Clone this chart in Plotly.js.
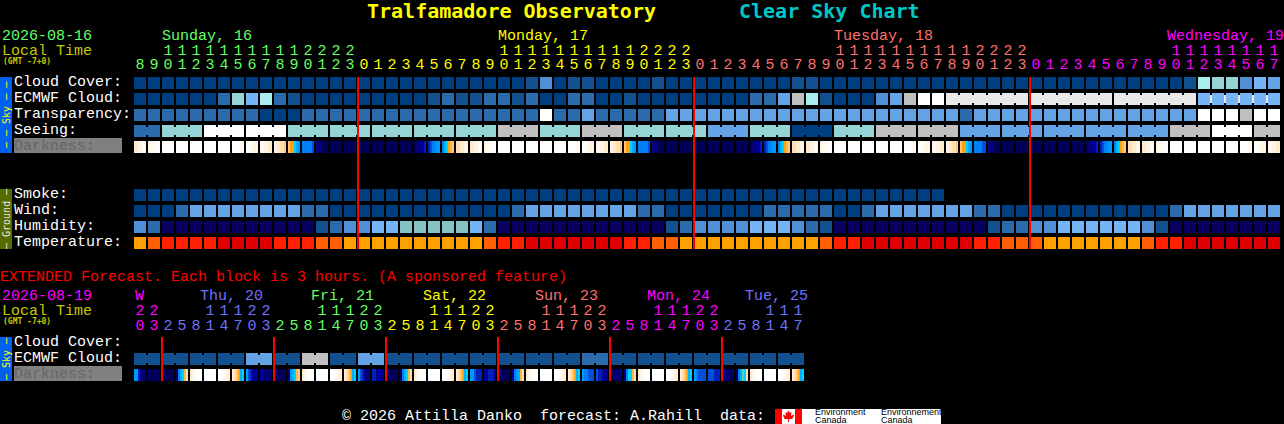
<!DOCTYPE html>
<html><head><meta charset="utf-8">
<script src="https://cdn.plot.ly/plotly-3.0.1.min.js"></script>
<style>html,body{margin:0;padding:0;background:#000;overflow:hidden}#c{width:1284px;height:424px}</style>
</head><body><div id="c"></div>
<script>
const titleLeft="Tralfamadore Observatory", titleRight="Clear Sky Chart";
const mainDate="2026-08-16", extDate="2026-08-19";
const skyLabels=["Cloud Cover:","ECMWF Cloud:","Transparency:","Seeing:"];
const groundLabels=["Smoke:","Wind:","Humidity:","Temperature:"];
const extLabels=["Cloud Cover:","ECMWF Cloud:"];
const C={green:"#66FF66",yellow:"#FFFF00",salmon:"#FF7070",magenta:"#FF00FF",peri:"#7070FF"};
const hours=[8,9,10,11,12,13,14,15,16,17,18,19,20,21,22,23,
0,1,2,3,4,5,6,7,8,9,10,11,12,13,14,15,16,17,18,19,20,21,22,23,
0,1,2,3,4,5,6,7,8,9,10,11,12,13,14,15,16,17,18,19,20,21,22,23,
0,1,2,3,4,5,6,7,8,9,10,11,12,13,14,15,16,17];
const mainDayColors=[C.green,C.yellow,C.salmon,C.magenta];
const mainDayNames=["Sunday, 16","Monday, 17","Tuesday, 18","Wednesday, 19"];
const extHours=[20,23,2,5,8,11,14,17,20,23,2,5,8,11,14,17,20,23,2,5,8,11,14,17,20,23,2,5,8,11,14,17,20,23,2,5,8,11,14,17,20,23,2,5,8,11,14,17];
const extDayColors=[C.magenta,C.peri,C.green,C.yellow,C.salmon,C.magenta,C.peri];
const extDayNames=["W","Thu, 20","Fri, 21","Sat, 22","Sun, 23","Mon, 24","Tue, 25"];
// colour levels
const palette=["#003F7F","#13508F","#2B6CAD","#4F8FD5","#63A3E6","#74B5F8","#95D5D5","#A9EDED","#FFFFFF","#C0C0C0","#E9E9E9","#08005F","#86C2C2","#FFA000","#FF5F00","#FF2000","#E00000"];
const cloudCover=[0,0,0,0,0,0,0,0,0,0,0,0,0,0,0,0,0,0,0,0,0,0,0,0,0,0,0,0,1,3,0,1,1,0,0,0,0,1,0,0,0,0,0,0,0,0,0,1,1,0,0,0,0,0,0,0,0,0,0,0,0,0,0,0,0,0,0,0,0,0,0,0,0,0,0,1,7,6,6,3,5,4];
const ecmwf=[0,0,0,0,0,0,2,6,5,7,2,1,0,0,0,0,0,0,0,0,0,1,2,1,1,2,2,1,2,0,0,2,2,0,0,1,0,0,0,0,0,0,0,0,2,2,4,9,7,1,0,0,0,3,4,9,8,8,10,10,10,10,10,10,10,10,10,10,10,10,10,10,10,10,10,10,5,5,5,5,5,5];
const ecmwfSpans=[1,1,1,1,1,1,1,1,1,1,1,1,1,1,1,1,1,1,1,1,1,1,1,1,1,1,1,1,1,1,1,1,1,1,1,1,1,1,1,1,1,1,1,1,1,1,1,1,1,1,1,1,1,1,1,1,1,1,6,6,6,6];
const transparency=[2,2,2,2,2,2,2,2,2,0,0,0,2,2,2,2,2,2,2,2,2,2,2,2,2,2,2,2,2,8,2,2,4,2,2,2,2,2,4,4,4,4,4,4,4,4,4,4,4,4,4,4,4,4,4,4,4,4,4,2,4,4,4,4,4,4,4,4,4,4,4,4,4,4,4,4,8,8,8,9,8,8];
const seeingBlocks=[2,6,8,8,6,6,6,6,6,9,6,9,6,6,4,6,0,6,9,9,4,4,4,4,4,9,8,9];
const seeingSpans=[2,3,3,3,3,3,3,3,3,3,3,3,3,3,3,3,3,3,3,3,3,3,3,3,3,3,3,2];
const smoke=[0,0,0,0,0,0,0,0,0,0,0,0,0,0,0,0,0,0,0,0,0,0,0,0,0,0,0,0,0,0,0,0,0,0,0,0,0,0,0,0,0,0,0,0,0,0,0,0,0,0,0,0,0,0,0,0,0,0];
const wind=[0,0,0,2,4,4,4,4,4,4,4,4,2,2,0,0,0,0,0,0,0,0,0,0,0,0,0,2,4,4,4,4,4,4,4,4,2,2,0,0,0,0,0,0,0,2,2,2,2,2,0,0,2,4,4,4,4,4,4,4,2,2,0,0,0,0,0,0,0,0,0,0,0,0,2,4,4,4,4,4,4,4];
const humidity=[3,2,11,11,11,11,11,11,11,11,11,11,11,1,2,3,3,5,5,12,12,12,12,12,5,2,11,11,11,11,11,11,11,11,11,11,11,11,1,2,3,3,3,3,5,5,5,3,2,1,11,11,11,11,11,11,11,11,11,11,11,1,2,2,3,3,5,5,5,5,5,5,3,1,11,11,11,11,11,11,11,11];
const temperature=[13,14,15,15,15,15,16,16,16,16,15,15,15,14,14,13,13,13,13,13,13,13,13,13,13,14,15,15,16,16,16,16,16,16,16,15,15,14,14,13,13,13,13,13,13,13,13,13,13,14,15,15,16,16,16,16,16,16,16,16,15,15,14,14,14,13,13,13,13,13,13,13,14,15,15,16,16,16,16,16,16,16];
const extEcmwfBlocks=[1,1,1,1,4,1,9,1,4,1,1,1,1,1,1,1,2,1,1,1,1,1,1,1];
// darkness levels by letter, six strips per block
const darkPalette={W:"#FFFFFF",a:"#FFF9F2",b:"#FFF3E4",c:"#FFEAD0",d:"#FFDDB0",e:"#FFC880",f:"#FFB840",g:"#FFA010",t:"#60D0A8",h:"#00D0FF",i:"#00B0FF",j:"#0098FF",k:"#0080F8",l:"#0050D8",m:"#0020B8",n:"#000098",o:"#000074",p:"#000058"};
const darkness="ccbbaa baaaWW WWWWWW WWWWWW WWWWWW WWWWWW WWWWWW WWWWaa WWaabb aabbcc bccdde egghij kkkkkl nooppp pppppp pppppp pppppp pppppp pppppp pppppp poonnm mlkkjj kihgfe ddccbb ccbbaa baaaWW WWWWWW WWWWWW WWWWWW WWWWWW WWWWWW WWWWaa WWaabb aabbcc bccdde egghij kkkkkl nooppp pppppp pppppp pppppp pppppp pppppp pppppp poonnm mlkkjj kihgfe ddccbb ccbbaa baaaWW WWWWWW WWWWWW WWWWWW WWWWWW WWWWWW WWWWaa WWaabb aabbcc bccdde egghij kkkkll nooppp pppppp pppppp pppppp pppppp pppppp pppppp poonnm mlkkjj kihgfe ddccbb ccbbaa baaaWW WWWWWW WWWWWW WWWWWW WWWWWW WWWWWW WWWWaa WWaabb aabbcc".split(" ");
const extDarkness="jjmnoo oppppp pppppp pkihfd cbaWWW WWWWWW WWWabc cdegih jlmnnn nnoooo oopppp pjihfe cbaWWW WWWWWW WWWabc cdegih jlmnoo mmnnnn oopppp pkihfd cbaWWW WWWWWW WWWabc cdegih jjlmmm nnmmmn oopppp nkjifd cbaWWW WWWWWW WWWabc cdegih jkklll lmmnnn ppoooo okhhfd cbaWWW WWWWWW WWWabc cdegih jkllll lllmmm nnoopp pkithd cbaWWW WWWWWW WWWabc cdegih".split(" ");

const X0=134,PX=14;
function steps(cols){const n=cols.length,o=[];cols.forEach((c,i)=>{o.push([i/n,c]);o.push([(i+1)/n,c]);});return o;}
function edges(start,n,step){const e=[];for(let i=0;i<=n;i++)e.push(start+i*step);return e;}
function expand(vals,spans){const o=[];vals.forEach((v,i)=>{for(let k=0;k<spans[i];k++)o.push(v);});return o;}
function links(vals,spans){const o=[];vals.forEach((v,i)=>{for(let k=0;k<spans[i];k++)o.push(k<spans[i]-1?v:null);});return o;}
const N=hours.length;
const blank=new Array(N).fill(null);
const seeing=expand(seeingBlocks,seeingSpans);
const pad=a=>a.concat(new Array(N-a.length).fill(null));
const grid=[cloudCover,ecmwf,transparency,seeing,blank,blank,blank,pad(smoke),wind,humidity,temperature];
const hm=(x,y,z,xgap,ygap)=>({type:"heatmap",x,y,z,xgap,ygap,colorscale:steps(palette),zmin:-0.5,zmax:palette.length-0.5,showscale:false,hoverinfo:"skip",zsmooth:false});
const traces=[];
traces.push(hm(edges(X0-1,N,PX),edges(75,11,16),grid,2,4));
const ecmwfLink=links(ecmwf,ecmwfSpans),seeLink=links(seeingBlocks,seeingSpans);
traces.push(hm(edges(X0+6,N,PX),edges(75,4,16),[blank,ecmwfLink,blank,seeLink],12,8));
const extN=extHours.length;
const twos=extEcmwfBlocks.map(()=>2);
traces.push(hm(edges(X0-1,extN,PX),[351,367],[expand(extEcmwfBlocks,twos)],2,4));
traces.push(hm(edges(X0+6,extN,PX),[351,367],[links(extEcmwfBlocks,twos)],12,8));
// darkness strips
const darkKeys=Object.keys(darkPalette),darkCols=darkKeys.map(k=>darkPalette[k]);
function darkRow(cells,top){
  const z=[];cells.forEach(s=>{for(const ch of s)z.push(darkKeys.indexOf(ch));z.push(null);});
  return {type:"heatmap",x:edges(X0,z.length,2),y:[top,top+12],z:[z],colorscale:steps(darkCols),zmin:-0.5,zmax:darkCols.length-0.5,showscale:false,hoverinfo:"skip",zsmooth:false};
}
traces.push(darkRow(darkness,141));
traces.push(darkRow(extDarkness,369));
// midnight lines
function midnight(h,top,bottom){const x=[],y=[];h.forEach((v,i)=>{if(i>0&&h[i]<h[i-1]){x.push(X0+i*PX,X0+i*PX,null);y.push(top,bottom,null);}});return {x,y};}
const m1=midnight(hours,77,249),m2=midnight(extHours,337,381);
traces.push({type:"scatter",mode:"lines",x:m1.x.concat(m2.x),y:m1.y.concat(m2.y),line:{color:"#FF0000",width:2},hoverinfo:"skip",connectgaps:false});
// text
const MONO="'Liberation Mono',monospace";
const TITLE="'DejaVu Sans Mono',monospace";
function txt(x,y,text,color,size,pos,bold,fam){return {type:"scatter",mode:"text",x,y,text,textposition:pos||"middle right",textfont:{family:fam||MONO,size,color,weight:bold?"bold":"normal"},hoverinfo:"skip",cliponaxis:false};}
function digits(h,dayCols,yT,yU){
  let d=0;const ux=[],ut=[],uc=[],tx=[],tt=[],tc=[];
  h.forEach((v,i)=>{if(i>0&&v<h[i-1])d++;const x=X0+i*PX+6;ux.push(x);ut.push(String(v%10));uc.push(dayCols[d]);if(v>=10){tx.push(x);tt.push(String(Math.floor(v/10)));tc.push(dayCols[d]);}});
  return [txt(tx,tx.map(()=>yT),tt,tc,15,"middle center"),txt(ux,ux.map(()=>yU),ut,uc,15,"middle center")];
}
traces.push(...digits(hours,mainDayColors,51,65),...digits(extHours,extDayColors,311,326));
const one=(x,y,s,c,size,bold,fam)=>txt([x],[y],[s],c,size,"middle right",bold,fam);
traces.push(one(367,13,titleLeft,"#FFFF00",20,true,TITLE),one(739,13,titleRight,"#00C8C8",20,true,TITLE));
traces.push(one(2,36,mainDate,C.green,15),one(2,51,"Local Time","#C8C800",15),one(3,62,"(GMT -7+0)","#C8C800",8,true,TITLE));
[162,498,834,1167].forEach((x,i)=>traces.push(one(x,36,mainDayNames[i],mainDayColors[i],15)));
skyLabels.forEach((s,i)=>traces.push(one(14,82+16*i,s,"#FFFFFF",15)));
traces.push(one(14,146,"Darkness:","#666666",15));
groundLabels.forEach((s,i)=>traces.push(one(14,194+16*i,s,"#FFFFFF",15)));
traces.push(one(0,277,"EXTENDED Forecast. Each block is 3 hours. (A sponsored feature)","#FF0000",15));
traces.push(one(2,296,extDate,C.magenta,15),one(2,311,"Local Time","#C8C800",15),one(3,322,"(GMT -7+0)","#C8C800",8,true,TITLE));
[135,200,311,423,535,647,745].forEach((x,i)=>traces.push(one(x,296,extDayNames[i],extDayColors[i],15)));
extLabels.forEach((s,i)=>traces.push(one(14,342+16*i,s,"#FFFFFF",15)));
traces.push(one(14,374,"Darkness:","#666666",15));
traces.push(one(342,416,"\u00A9 2026 Attilla Danko  forecast: A.Rahill  data:","#FFFFFF",15));
const SANS="'Liberation Sans',sans-serif";
[[815,"Environment"],[881,"Environnement"]].forEach(([x,s])=>{
  traces.push({type:"scatter",mode:"text",x:[x],y:[412.5],text:[s],textposition:"middle right",textfont:{family:SANS,size:9,color:"#000"},hoverinfo:"skip"});
  traces.push({type:"scatter",mode:"text",x:[x],y:[420.5],text:["Canada"],textposition:"middle right",textfont:{family:SANS,size:9,color:"#000"},hoverinfo:"skip"});
});
const rect=(x0,y0,x1,y1,c,layer)=>({type:"rect",xref:"x",yref:"y",x0,y0,x1,y1,fillcolor:c,line:{width:0},layer:layer||"below"});
const shapes=[
 rect(0,77,12,153,"#0060F0"),rect(0,189,12,249,"#556B00"),rect(0,337,12,381,"#0060F0"),
 rect(14,138,122,153,"#808080"),rect(14,366,122,381,"#808080"),
 rect(775,409,941,424,"#FFFFFF"),rect(775,409,782,424,"#FF0000"),rect(795,409,802,424,"#FF0000"),
 {type:"path",xref:"x",yref:"y",layer:"below",fillcolor:"#FF0000",line:{width:0},path:"M788.5 410.5 L790 413 L791.5 412 L791 416 L793.5 414.5 L794 416 L792.5 418 L793 419 L789 419 L789 422 L788 422 L788 419 L784 419 L784.5 418 L783 416 L783.5 414.5 L786 416 L785.5 412 L787 413 Z"}
];
const rot=(x,y,s,c)=>({xref:"x",yref:"y",x,y,text:s,showarrow:false,textangle:-90,font:{family:TITLE,size:10,color:c},xanchor:"center",yanchor:"middle"});
const layout={width:1284,height:424,margin:{l:0,r:0,t:0,b:0,pad:0},paper_bgcolor:"#000",plot_bgcolor:"#000",showlegend:false,
 xaxis:{range:[0,1284],visible:false,fixedrange:true},yaxis:{range:[424,0],visible:false,fixedrange:true},shapes,
 annotations:[rot(6,115,"\u2500 \u2500 Sky \u2500 \u2500","#FFFF00"),rot(6,219,"\u2500 Ground \u2500","#E8E8E8"),rot(6,359,"\u2500 Sky \u2500","#FFFF00")]};
Plotly.newPlot("c",traces,layout,{staticPlot:true,displayModeBar:false});
</script></body></html>
